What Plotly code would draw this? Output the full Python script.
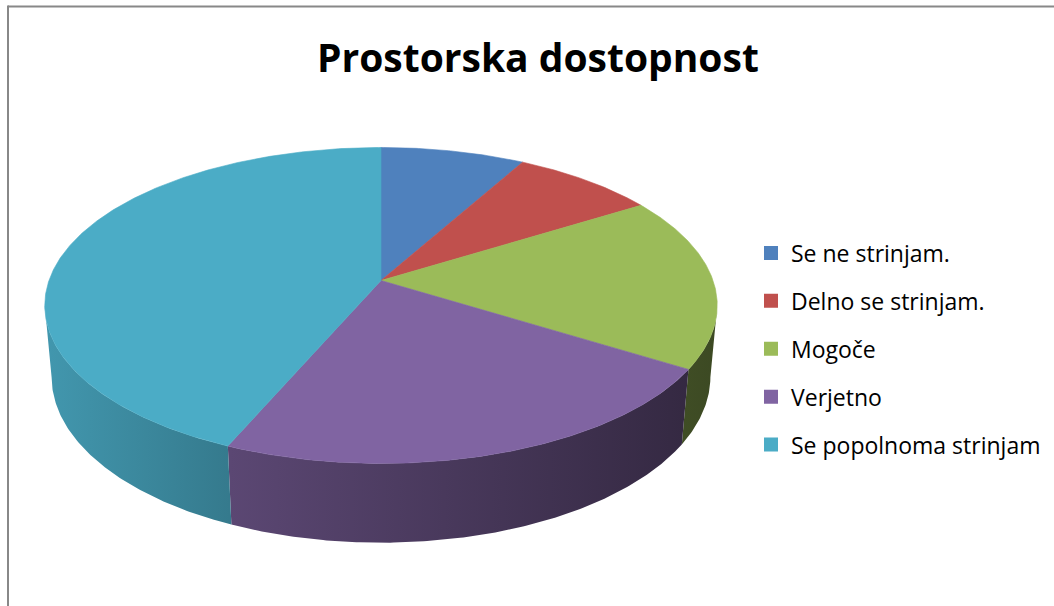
import math
import plotly.graph_objects as go

# ---- data ----
labels = ["Se ne strinjam.", "Delno se strinjam.", "Mogoče", "Verjetno", "Se popolnoma strinjam"]
values = [5, 5, 11, 14, 27]
colors = ["#4F81BD", "#C0504D", "#9BBB59", "#8064A2", "#4BACC6"]
title_text = "Prostorska dostopnost"

# ---- 3D pie geometry (style constants) ----
W, H = 1054, 606
cx, cy = 381.0, 280.5
eps = math.radians(27.64)
Ldist = 5.608
F = 1862.0
thick = 0.245
x_light, x_dark = 45.0, 717.0
shade_stops = [(0.0, 0.88), (0.275, 0.71), (1.0, 0.39)]


def proj(phi, z):
    u, v = math.sin(phi), math.cos(phi)
    w = Ldist + v * math.cos(eps) - z * math.sin(eps)
    X = F * u / w
    Y = F * (v * math.sin(eps) + z * math.cos(eps)) / w
    return cx + X, cy - Y


def arc(a0, a1, z, n=None):
    if n is None:
        n = max(4, int(abs(a1 - a0) / math.radians(0.5)))
    pts = [proj(a0 + (a1 - a0) * i / n, z) for i in range(n + 1)]
    return [p[0] for p in pts], [p[1] for p in pts]


def shade(hexc, f):
    hexc = hexc.lstrip("#")
    r, g, b = (int(hexc[i:i + 2], 16) for i in (0, 2, 4))
    return "rgb(%d,%d,%d)" % (round(r * f), round(g * f), round(b * f))


total = sum(values)
bounds = [0.0]
for v in values:
    bounds.append(bounds[-1] + 2 * math.pi * v / total)

k = math.cos(eps) / Ldist
phi_s = math.acos(-k)            # silhouette (right)
phi_e = 2 * math.pi - phi_s      # silhouette (left)

fig = go.Figure()

# walls (visible front part)
for lab, c, a0, a1 in zip(labels, colors, bounds[:-1], bounds[1:]):
    s0, s1 = max(a0, phi_s), min(a1, phi_e)
    if s1 <= s0:
        continue
    xt, yt = arc(s0, s1, 0.0)
    xb, yb = arc(s0, s1, -thick)
    xs = xt + xb[::-1] + [xt[0]]
    ys = yt + yb[::-1] + [yt[0]]
    fig.add_trace(go.Scatter(
        x=xs, y=ys, mode="lines", fill="toself", line=dict(width=0),
        fillgradient=dict(type="horizontal", start=x_light, stop=x_dark,
                          colorscale=[[p, shade(c, f)] for p, f in shade_stops]),
        showlegend=False, hoverinfo="skip"))

# top faces
for lab, v, c, a0, a1 in zip(labels, values, colors, bounds[:-1], bounds[1:]):
    xa, ya = arc(a0, a1, 0.0)
    xs = [cx] + xa + [cx]
    ys = [cy] + ya + [cy]
    fig.add_trace(go.Scatter(
        x=xs, y=ys, mode="lines", fill="toself", fillcolor=c,
        line=dict(width=0.6, color=c), showlegend=False,
        name=lab, text=str(v), hoverinfo="name+text"))

# legend entries
for lab, c in zip(labels, colors):
    fig.add_trace(go.Scatter(
        x=[None], y=[None], mode="markers", name=lab, legendgroup=lab,
        marker=dict(symbol="square", size=14, color=c, line=dict(width=0))))

fig.update_layout(
    width=W, height=H,
    margin=dict(l=0, r=0, t=0, b=0),
    paper_bgcolor="white", plot_bgcolor="white",
    xaxis=dict(range=[0, W], visible=False, fixedrange=True),
    yaxis=dict(range=[H, 0], visible=False, fixedrange=True),
    showlegend=True,
    legend=dict(x=751 / W, y=1 - 349 / H, xanchor="left", yanchor="middle",
                font=dict(family="Open Sans", size=23, color="#000000"),
                tracegroupgap=15, traceorder="grouped",
                bgcolor="rgba(0,0,0,0)"),
    annotations=[dict(
        text="<b>%s</b>" % title_text, x=538 / W, y=1 - 56 / H,
        xref="paper", yref="paper", xanchor="center", yanchor="middle",
        showarrow=False, font=dict(family="Open Sans", size=39, color="#000000"))],
    shapes=[
        dict(type="line", xref="paper", yref="paper", x0=8 / W, x1=1, y0=1 - 6.5 / H, y1=1 - 6.5 / H,
             line=dict(color="#888888", width=2)),
        dict(type="line", xref="paper", yref="paper", x0=8 / W, x1=8 / W, y0=0, y1=1 - 5.5 / H,
             line=dict(color="#888888", width=2)),
    ],
)

fig.write_html("out.html", config={"displayModeBar": False},
               post_script="document.body.style.margin='0px';document.body.style.overflow='hidden';")
